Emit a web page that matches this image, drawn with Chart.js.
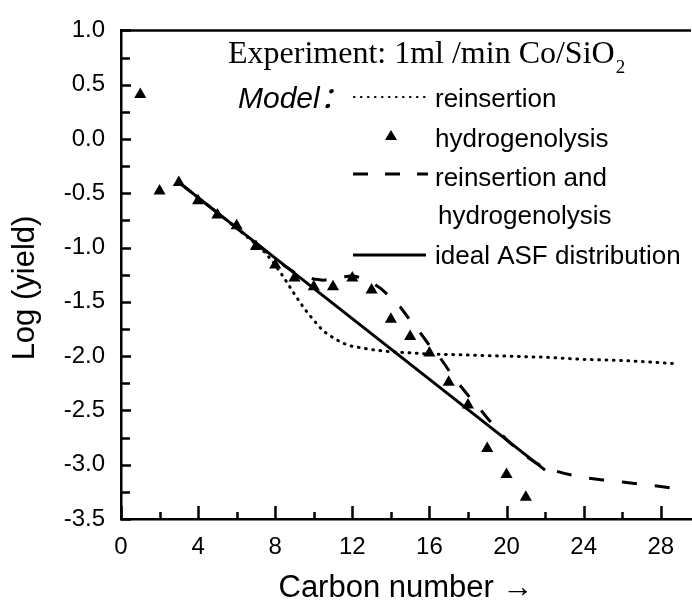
<!DOCTYPE html>
<html lang="en">
<head>
<meta charset="UTF-8">
<title>Log yield vs carbon number</title>
<script src="https://cdn.jsdelivr.net/npm/chart.js"></script>
<style>
	body { margin: 0; background: #fff; overflow: hidden; }
</style>
</head>
<body>
<canvas id="ctx" width="698" height="601"></canvas>
<script>
	// experiment points (triangles)
	const carbonExp = [1, 2, 3, 4, 5, 6, 7, 8, 9, 10, 11, 12, 13, 14, 15, 16, 17, 18, 19, 20, 21];
	const logYieldExp = [0.41, -0.48, -0.40, -0.57, -0.70, -0.80, -0.99, -1.16, -1.28, -1.36, -1.36, -1.28, -1.39, -1.66, -1.82, -1.97, -2.24, -2.45, -2.85, -3.09, -3.30];

	// model: reinsertion (dotted)
	const reinsertionX = [3, 4, 5, 6, 7, 7.5, 8, 8.5, 9, 9.5, 10, 10.5, 11, 11.5, 12, 13, 14, 15, 16, 18, 20, 22, 24, 26, 28, 28.8];
	const reinsertionY = [-0.40, -0.54, -0.68, -0.82, -0.97, -1.05, -1.16, -1.29, -1.43, -1.56, -1.67, -1.77, -1.83, -1.88, -1.91, -1.94, -1.96, -1.97, -1.98, -1.99, -2.00, -2.01, -2.03, -2.04, -2.06, -2.07];

	// model: reinsertion and hydrogenolysis (dashed)
	const combinedX = [3, 4, 5, 6, 7, 8, 8.5, 9, 9.5, 10, 10.5, 11, 11.5, 12, 12.5, 13, 13.5, 14, 14.5, 15, 15.5, 16, 16.5, 17, 17.5, 18, 18.5, 19, 19.5, 20, 20.5, 21, 21.5, 22, 23, 24, 25, 26, 27, 28, 28.8];
	const combinedY = [-0.40, -0.54, -0.68, -0.82, -0.96, -1.10, -1.17, -1.23, -1.27, -1.29, -1.30, -1.29, -1.27, -1.26, -1.28, -1.32, -1.38, -1.46, -1.55, -1.67, -1.78, -1.90, -2.00, -2.13, -2.25, -2.36, -2.46, -2.57, -2.67, -2.77, -2.85, -2.92, -2.98, -3.03, -3.08, -3.12, -3.14, -3.16, -3.18, -3.20, -3.22];

	// ideal ASF distribution (solid)
	const idealX = [3, 22];
	const idealY = [-0.40, -3.05];

	const legendLabels = ['reinsertion', 'hydrogenolysis', 'reinsertion and', 'hydrogenolysis', 'ideal ASF distribution'];
	const headerText = 'Experiment: 1ml /min Co/SiO';
	const modelText = 'Model：';

	function pairs(xs, ys) {
		return xs.map((x, i) => ({ x: x, y: ys[i] }));
	}

	const extras = {
		id: 'extras',
		afterDraw(chart) {
			const ctx = chart.ctx;
			const a = chart.chartArea;
			const xs = chart.scales.x, ys = chart.scales.y;
			ctx.save();
			ctx.strokeStyle = '#000';
			ctx.fillStyle = '#000';
			ctx.lineWidth = 2.5;

			// top frame line
			ctx.beginPath();
			ctx.moveTo(a.left - 1, a.top);
			ctx.lineTo(a.right, a.top);
			ctx.stroke();

			// inward ticks
			ctx.beginPath();
			for (let v = -3.5; v <= 1.0001; v += 0.25) {
				const py = Math.round(ys.getPixelForValue(v)) + 0.5;
				const major = Math.abs(v * 2 - Math.round(v * 2)) < 1e-6;
				ctx.moveTo(a.left, py);
				ctx.lineTo(a.left + (major ? 10 : 9), py);
			}
			for (let c = 0; c <= 28; c += 2) {
				const px = Math.round(xs.getPixelForValue(c)) + 0.5;
				ctx.moveTo(px, a.bottom);
				ctx.lineTo(px, a.bottom - (c % 4 === 0 ? 13 : 7));
			}
			ctx.stroke();

			// y title
			ctx.save();
			ctx.translate(25, 288);
			ctx.rotate(-Math.PI / 2);
			ctx.font = '31px "Liberation Sans"';
			ctx.textAlign = 'center';
			ctx.textBaseline = 'middle';
			ctx.fillText('Log (yield)', 0, 0);
			ctx.restore();

			// header and legend
			ctx.textBaseline = 'alphabetic';
			ctx.textAlign = 'left';
			ctx.font = '32px "Liberation Serif"';
			ctx.fillText(headerText, 228, 63);
			const hw = ctx.measureText(headerText).width;
			ctx.font = '19px "Liberation Serif"';
			ctx.fillText('2', 228 + hw + 1, 73);

			ctx.font = 'italic 30px "Liberation Sans", "Noto Sans CJK SC"';
			ctx.fillText(modelText, 238, 108);

			ctx.font = '26px "Liberation Sans"';
			ctx.fillText(legendLabels[0], 435, 107);
			ctx.fillText(legendLabels[1], 435, 147);
			ctx.fillText(legendLabels[2], 435, 186);
			ctx.fillText(legendLabels[3], 438, 224);
			ctx.fillText(legendLabels[4], 435, 264);

			// legend samples
			ctx.lineCap = 'round';
			ctx.lineWidth = 2.2;
			ctx.setLineDash([0.5, 6.5]);
			ctx.beginPath(); ctx.moveTo(354, 97); ctx.lineTo(427, 97); ctx.stroke();

			ctx.lineCap = 'butt';
			ctx.lineWidth = 3;
			ctx.setLineDash([15, 17]);
			ctx.beginPath(); ctx.moveTo(353, 174); ctx.lineTo(428, 174); ctx.stroke();

			ctx.setLineDash([]);
			ctx.beginPath(); ctx.moveTo(353, 255); ctx.lineTo(426, 255); ctx.stroke();

			ctx.beginPath();
			ctx.moveTo(391, 130); ctx.lineTo(397, 140); ctx.lineTo(385, 140); ctx.closePath();
			ctx.fill();

			ctx.restore();
		}
	};

	new Chart(document.getElementById('ctx'), {
		type: 'scatter',
		data: {
			datasets: [{
				label: 'experiment',
				data: pairs(carbonExp, logYieldExp),
				pointStyle: 'triangle',
				pointRadius: 7,
				backgroundColor: '#000',
				borderColor: '#000',
				borderWidth: 0,
			}, {
				label: 'reinsertion',
				data: pairs(reinsertionX, reinsertionY),
				showLine: true,
				pointRadius: 0,
				borderColor: '#000',
				borderWidth: 3,
				borderDash: [0.8, 6.5],
				borderCapStyle: 'round',
			}, {
				label: 'reinsertion and hydrogenolysis',
				data: pairs(combinedX, combinedY),
				showLine: true,
				pointRadius: 0,
				borderColor: '#000',
				borderWidth: 3,
				borderDash: [15, 18],
			}, {
				label: 'ideal ASF distribution',
				data: pairs(idealX, idealY),
				showLine: true,
				pointRadius: 0,
				borderColor: '#000',
				borderWidth: 3,
			}]
		},
		options: {
			responsive: false,
			animation: false,
			events: [],
			layout: { padding: { top: 29, right: 0, left: 0, bottom: 0 } },
			plugins: {
				legend: { display: false },
				tooltip: { enabled: false }
			},
			scales: {
				x: {
					type: 'linear',
					min: 0,
					max: 29.57,
					afterFit(scale) { scale.height = 82; },
					grid: { drawOnChartArea: false, drawTicks: false },
					border: { color: '#000', width: 2.5 },
					ticks: {
						stepSize: 4,
						includeBounds: false,
						padding: 14,
						color: '#000',
						font: { family: 'Liberation Sans', size: 24 },
						maxRotation: 0
					},
					title: {
						display: true,
						text: 'Carbon number →',
						color: '#000',
						padding: 0,
						font: { family: 'Liberation Sans', size: 31, lineHeight: 0.8 }
					}
				},
				y: {
					min: -3.5,
					max: 1.0,
					afterFit(scale) { scale.width = 121; },
					grid: { drawOnChartArea: false, drawTicks: false },
					border: { color: '#000', width: 2.5 },
					ticks: {
						stepSize: 0.5,
						padding: 16,
						color: '#000',
						font: { family: 'Liberation Sans', size: 24 },
						callback: v => v.toFixed(1)
					}
				}
			}
		},
		plugins: [extras]
	});
</script>
</body>
</html>
